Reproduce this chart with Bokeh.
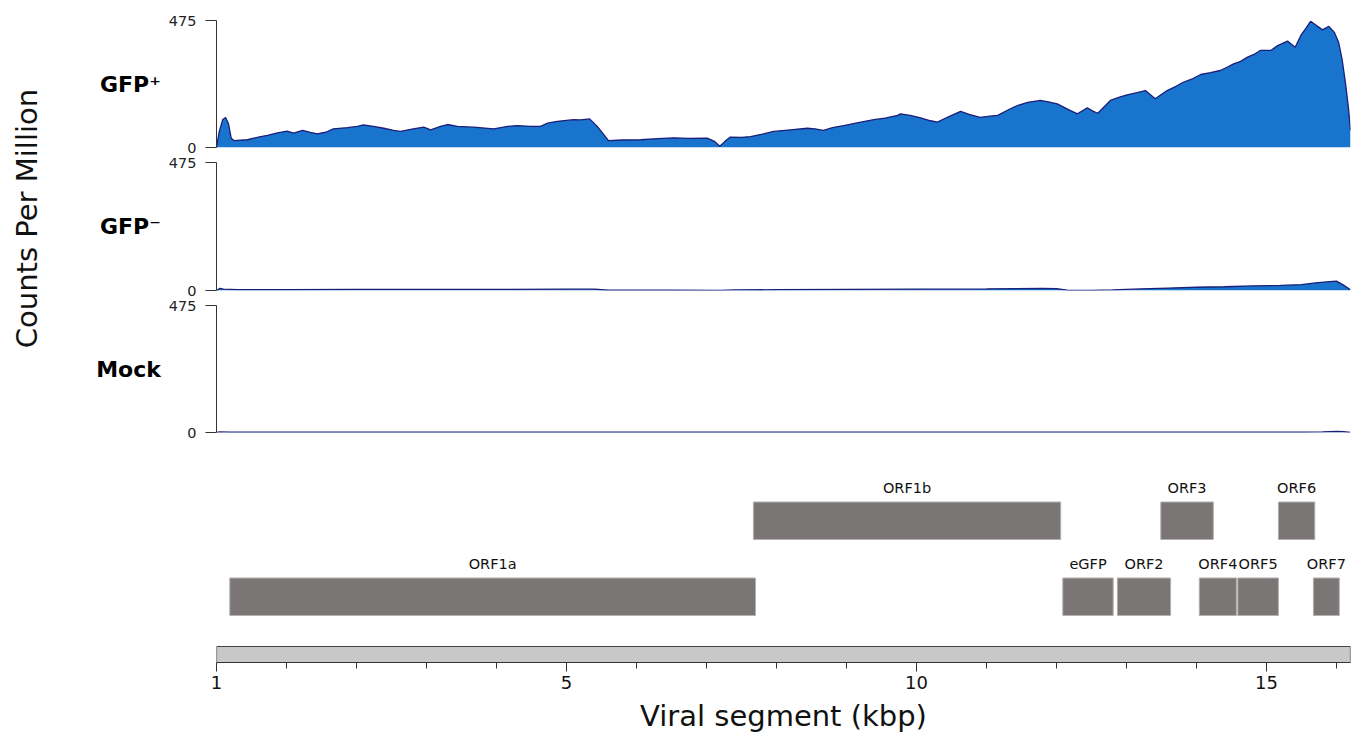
import numpy as np
from bokeh.plotting import figure
from bokeh.models import Range1d, FixedTicker, ColumnDataSource
from bokeh.layouts import column, row
from bokeh.embed import file_html
from bokeh.resources import INLINE
from bokeh.core.properties import value

# ---------------- data ----------------
genome_len_kbp = 16.2
cpm_max = 475

gfp_pos_kbp = [0.00, 0.04, 0.09, 0.13, 0.17, 0.21, 0.25, 0.44, 0.63, 0.73, 0.87, 1.01, 1.10, 1.23,
               1.34, 1.44, 1.56, 1.67, 1.87, 2.01, 2.10, 2.24, 2.39, 2.53, 2.63, 2.81, 2.96, 3.06,
               3.20, 3.30, 3.44, 3.67, 3.96, 4.16, 4.30, 4.49, 4.63, 4.73, 4.87, 5.10, 5.20, 5.33,
               5.44, 5.60, 5.80, 6.06, 6.30, 6.53, 6.75, 7.01, 7.12, 7.19, 7.26, 7.34, 7.50, 7.63,
               7.80, 7.96, 8.20, 8.44, 8.55, 8.67, 8.80, 8.96, 9.15, 9.39, 9.55, 9.73, 9.77, 9.91,
               10.06, 10.20, 10.30, 10.44, 10.63, 10.75, 10.91, 11.05, 11.16, 11.34, 11.45, 11.59,
               11.77, 11.90, 12.01, 12.20, 12.30, 12.44, 12.52, 12.59, 12.77, 12.90, 13.01, 13.15,
               13.27, 13.41, 13.58, 13.70, 13.81, 13.95, 14.06, 14.20, 14.34, 14.45, 14.53, 14.63,
               14.73, 14.82, 14.91, 15.06, 15.16, 15.30, 15.41, 15.49, 15.56, 15.63, 15.72, 15.80,
               15.89, 15.97, 16.03, 16.08, 16.13, 16.17, 16.20]
gfp_pos_cpm = [0, 60, 105, 112, 90, 35, 26, 29, 41, 45, 55, 61, 54, 64,
               57, 51, 57, 70, 74, 79, 85, 79, 72, 64, 60, 70, 76, 66,
               79, 86, 79, 76, 70, 79, 82, 79, 79, 91, 98, 104, 103, 107,
               79, 26, 28, 29, 33, 36, 34, 35, 22, 5, 22, 39, 38, 41,
               50, 60, 66, 72, 70, 64, 74, 82, 92, 104, 110, 120, 126, 120,
               111, 100, 95, 113, 135, 124, 113, 117, 120, 145, 158, 169,
               176, 170, 163, 138, 126, 148, 136, 128, 176, 188, 197, 205,
               213, 182, 213, 228, 244, 258, 273, 280, 288, 302, 313, 322,
               338, 348, 363, 363, 381, 398, 375, 419, 445, 472, 455, 440,
               453, 430, 394, 330, 238, 150, 64]

gfp_neg_kbp = [0.00, 0.05, 0.10, 0.30, 1.0, 2.0, 3.0, 4.0, 5.0, 5.4, 5.6, 6.5, 7.2, 7.4, 8.0,
               9.0, 10.0, 11.0, 11.8, 12.0, 12.15, 12.5, 12.8, 13.2, 13.6, 14.0, 14.4, 14.8,
               15.2, 15.5, 15.7, 15.9, 16.0, 16.1, 16.2]
gfp_neg_cpm = [0, 8, 5, 3, 3, 4, 4, 4, 5, 5, 1, 1, 0.5, 2, 3,
               4, 5, 6, 8, 7, 1, 0.5, 2, 6, 9, 12, 14, 17,
               19, 22, 28, 33, 35, 20, 3]

mock_kbp = [0.00, 0.05, 0.20, 2.0, 5.0, 8.0, 11.0, 14.0, 15.5, 15.8, 16.0, 16.1, 16.2]
mock_cpm = [0, 2, 1, 1, 1, 1, 1, 1, 1, 2, 4, 3, 0]

gene_names = ["ORF1a", "ORF1b", "eGFP", "ORF2", "ORF3", "ORF4", "ORF5", "ORF6", "ORF7"]
gene_start_kbp = [0.19, 7.67, 12.09, 12.87, 13.49, 14.04, 14.59, 15.17, 15.67]
gene_end_kbp = [7.70, 12.06, 12.81, 13.63, 14.24, 14.57, 15.17, 15.69, 16.04]
gene_row = ["lower", "upper", "lower", "lower", "upper", "lower", "lower", "upper", "lower"]

major_ticks = [0.001, 5, 10, 15]
major_labels = ["1", "5", "10", "15"]
minor_ticks = [1, 2, 3, 4, 6, 7, 8, 9, 11, 12, 13, 14, 16]

# ---------------- style / layout ----------------
FONT = "DejaVu Sans"
FILL = "#1874CD"
EDGE = "#1a1f78"
GENE_FILL = "#7a7675"
PX_PER_KBP = 70
FRAME_W = int(round(genome_len_kbp * PX_PER_KBP))
LEFT_W = 53
BORDER_L = 163
ROW_Y = {"lower": 47, "upper": 123}
BAR_H = 37.5
GENOME_BAR_H = 16

xr = Range1d(0, genome_len_kbp)


def coverage_fig(label, xs, ys, top, frame_h, bottom):
    p = figure(frame_width=FRAME_W, frame_height=frame_h,
               min_border_left=BORDER_L, min_border_right=1,
               min_border_top=top, min_border_bottom=bottom,
               x_range=xr, y_range=Range1d(0, cpm_max),
               x_axis_location=None, toolbar_location=None,
               output_backend="svg")
    p.grid.visible = False
    p.outline_line_color = None
    src = ColumnDataSource(dict(x=xs, y=ys))
    p.varea(x="x", y1=0, y2="y", source=src, fill_color=FILL)
    p.line(x="x", y="y", source=src, line_color=EDGE, line_width=1.3)
    ax = p.yaxis[0]
    ax.ticker = FixedTicker(ticks=[0, cpm_max])
    ax.minor_tick_line_color = None
    ax.major_tick_out = 11
    ax.major_tick_in = 0
    ax.major_label_standoff = 9
    ax.major_label_text_font = FONT
    ax.major_label_text_font_size = "14.5px"
    ax.major_label_text_color = "#222222"
    ax.axis_line_color = "#333333"
    ax.major_tick_line_color = "#333333"
    ax.axis_label = label
    ax.axis_label_text_font = FONT
    ax.axis_label_text_font_style = "bold"
    ax.axis_label_text_font_size = "22px"
    ax.axis_label_text_color = "#000000"
    ax.axis_label_orientation = "horizontal"
    ax.axis_label_standoff = 5
    return p


p1 = coverage_fig("GFP\u207a", gfp_pos_kbp, gfp_pos_cpm, 20, 127, 7)
p2 = coverage_fig("GFP\u207b", gfp_neg_kbp, gfp_neg_cpm, 8, 128, 7)
p3 = coverage_fig("Mock", mock_kbp, mock_cpm, 8, 127, 8)

# gene track
g = figure(frame_width=FRAME_W, frame_height=222,
           min_border_left=BORDER_L, min_border_right=1,
           min_border_top=0, min_border_bottom=10,
           x_range=xr, y_range=Range1d(0, 222),
           y_axis_location=None, toolbar_location=None, output_backend="svg")
g.grid.visible = False
g.outline_line_color = None

g.quad(left=[0], right=[genome_len_kbp], bottom=[0], top=[GENOME_BAR_H],
       fill_color="#c8c8c8", line_color="#444444", line_width=1.2)

gsrc = ColumnDataSource(dict(
    left=gene_start_kbp, right=gene_end_kbp,
    bottom=[ROW_Y[r] for r in gene_row],
    top=[ROW_Y[r] + BAR_H for r in gene_row],
    mid=[(a + b) / 2 for a, b in zip(gene_start_kbp, gene_end_kbp)],
    ly=[ROW_Y[r] + BAR_H + 6 for r in gene_row],
    name=gene_names))
g.quad(left="left", right="right", bottom="bottom", top="top", source=gsrc,
       fill_color=GENE_FILL, line_color="#b4b0af", line_width=1)
g.text(x="mid", y="ly", text="name", source=gsrc, text_align="center",
       text_baseline="bottom", text_font=value(FONT), text_font_size="14.5px",
       text_color="#111111")

xa = g.xaxis[0]
xa.ticker = FixedTicker(ticks=major_ticks, minor_ticks=minor_ticks)
xa.major_label_overrides = {t: l for t, l in zip(major_ticks, major_labels)}
xa.major_tick_out = 9
xa.major_tick_in = 0
xa.minor_tick_out = 6
xa.minor_tick_in = 0
xa.major_label_standoff = 4
xa.major_label_text_font = FONT
xa.major_label_text_font_size = "18px"
xa.major_label_text_color = "#111111"
xa.axis_line_color = "#333333"
xa.major_tick_line_color = "#333333"
xa.minor_tick_line_color = "#333333"
xa.axis_label = "Viral segment (kbp)"
xa.axis_label_text_font = FONT
xa.axis_label_text_font_style = "normal"
xa.axis_label_text_font_size = "29px"
xa.axis_label_text_color = "#111111"
xa.axis_label_standoff = 7

TOTAL_H = 728
lp = figure(width=LEFT_W, height=TOTAL_H, x_range=Range1d(0, LEFT_W), y_range=Range1d(0, TOTAL_H),
            x_axis_location=None, y_axis_location=None, toolbar_location=None,
            output_backend="svg", min_border=0)
lp.grid.visible = False
lp.outline_line_color = None
lp.text(x=[26], y=[TOTAL_H - 218], text=["Counts Per Million"], angle=np.pi / 2,
        text_align="center", text_baseline="middle", text_font=value(FONT),
        text_font_size="29px", text_color="#111111")

layout = row(lp, column(p1, p2, p3, g))

open("out.html", "w").write(file_html(layout, INLINE))
